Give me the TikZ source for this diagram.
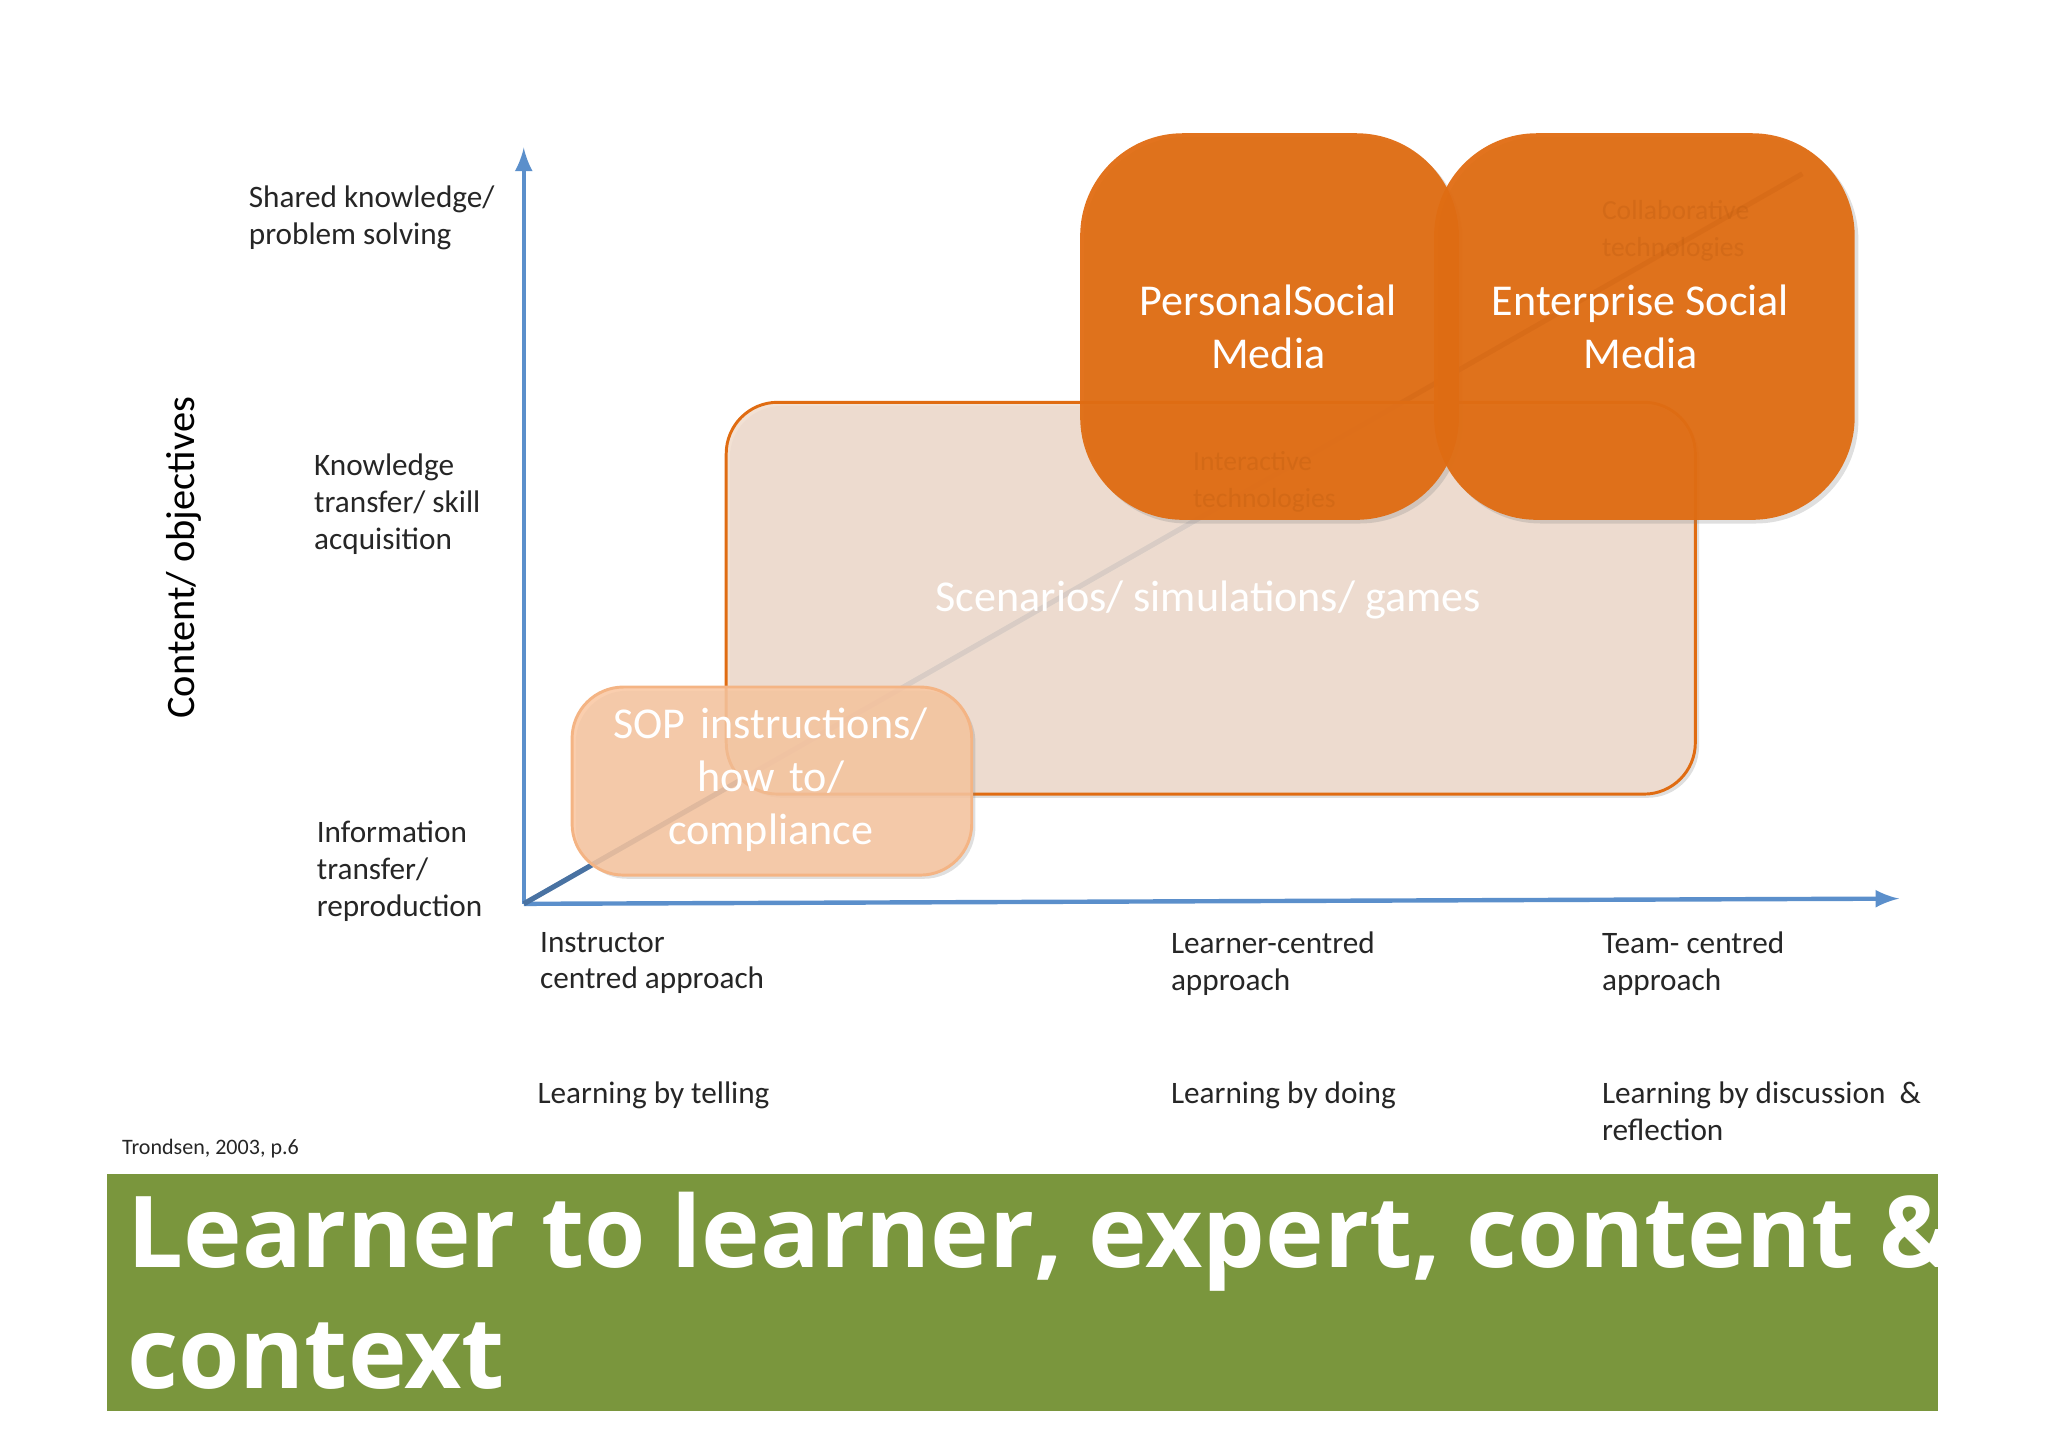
\documentclass[tikz,border=0pt]{standalone}
\usepackage{fontspec}
\setmainfont{Carlito}
\newfontfamily\titlefont{Open Sans}
\usetikzlibrary{shadows}
\definecolor{axisblue}{HTML}{5B8FCB}
\definecolor{darkorange}{HTML}{E06C12}
\definecolor{peach}{HTML}{F9C6A0}
\definecolor{sand}{HTML}{F0DCCD}
\definecolor{olive}{HTML}{7A963D}

\begin{document}
\begin{tikzpicture}[x=0.0125cm, y=-0.0125cm]
    \tikzstyle{axis}=[draw=axisblue, line width=1.2pt, -latex]
    \tikzstyle{lbl}=[anchor=north west, align=left, font=\fontsize{8.5}{10}\selectfont, inner sep=0pt, text=black!85]
    \tikzstyle{box}=[rounded corners=14pt, drop shadow={opacity=0.25, shadow xshift=1pt, shadow yshift=-1pt}]
    \tikzstyle{boxtext}=[text=white, align=center, font=\fontsize{12}{14.5}\selectfont]
    \tikzstyle{faint}=[text=darkorange!85!black, opacity=0.35, align=left, anchor=north west, font=\fontsize{7.5}{10}\selectfont, inner sep=0pt]

    \useasboundingbox (0,0) rectangle (1568,1108);

    % axes
    \coordinate (O) at (401,692);
    \coordinate (ytop) at (401,113);
    \coordinate (xend) at (1454,688);
    \coordinate (diag) at (1380,133);
    \draw[axis] (O) -- (ytop);
    \draw[axis] (O) -- (xend);
    \draw[draw=axisblue!80!black, line width=1.4pt] (O) -- (diag);

    % boxes
    \draw[box, fill=sand, fill opacity=0.85, draw=darkorange, line width=0.8pt] (556,308) rectangle (1298,608);
    \node[boxtext, font=\fontsize{12}{14.5}\selectfont, text=white] (scen) at (925,459) {Scenarios/ simulations/ games};
    \draw[box, fill=peach, fill opacity=0.85, draw=peach!80!darkorange, line width=0.8pt] (438,526) rectangle (744,670);
    \node[boxtext, text width=4cm] (sop) at (590,597) {SOP instructions/\\how to/\\compliance};
    \draw[box, rounded corners=28pt, fill=darkorange, fill opacity=0.95, draw=none] (827,102) rectangle (1117,398);
    \draw[box, rounded corners=28pt, fill=darkorange, fill opacity=0.95, draw=none] (1098,102) rectangle (1420,398);
    \node[boxtext] (personal) at (971,250) {PersonalSocial\\Media};
    \node[boxtext] (enterprise) at (1256,250) {Enterprise Social\\Media};
    \node[faint] (inter) at (913,345) {Interactive\\technologies};
    \node[faint] (collab) at (1226,153) {Collaborative\\technologies};

    % axis labels
    \node[lbl] (shared) at (190,142) {Shared knowledge/\\problem solving};
    \node[lbl] (know) at (240,347) {Knowledge\\transfer/ skill\\acquisition};
    \node[lbl] (info) at (242,628) {Information\\transfer/\\reproduction};
    \node[rotate=90, font=\fontsize{11}{13}\selectfont] (content) at (141,427) {Content/ objectives};

    \node[lbl] (instr) at (413,713) {Instructor\\centred approach};
    \node[lbl] (learner) at (896,713) {Learner-centred\\approach};
    \node[lbl] (team) at (1226,713) {Team- centred\\approach};
    \node[lbl] (telling) at (411,828) {Learning by telling};
    \node[lbl] (doing) at (896,828) {Learning by doing};
    \node[lbl] (discuss) at (1226,828) {Learning by discussion \ \&\\reflection};
    \node[lbl, font=\fontsize{6}{7}\selectfont] (source) at (93,872) {Trondsen, 2003, p.6};

    % banner
    \fill[olive] (82,899) rectangle (1484,1080);
    \node[anchor=north west, align=left, text=white, inner sep=0pt, font=\titlefont\bfseries\fontsize{27}{33}\selectfont] (title) at (97,912) {Learner to learner, expert, content \&\\context};
\end{tikzpicture}
\end{document}
